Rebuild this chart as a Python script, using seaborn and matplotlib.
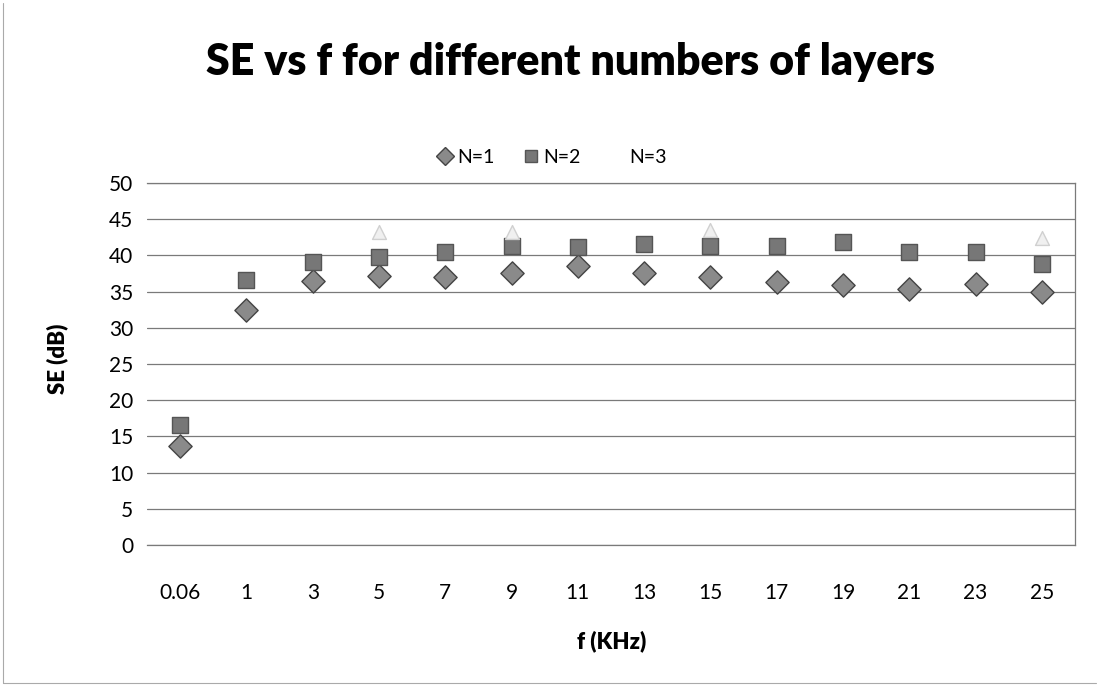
import numpy as np
import pandas as pd
import matplotlib
matplotlib.use("Agg")
import matplotlib.pyplot as plt
from matplotlib.lines import Line2D
import seaborn as sns

# Frequencies (kHz) used as category labels
freq_labels = ["0.06", "1", "3", "5", "7", "9", "11", "13", "15", "17", "19", "21", "23", "25"]

# Shielding effectiveness (dB) for each number of layers
se_n1 = [13.7, 32.5, 36.5, 37.2, 37.0, 37.6, 38.6, 37.5, 37.0, 36.3, 35.9, 35.4, 36.0, 35.0]
se_n2 = [16.6, 36.6, 39.1, 39.8, 40.5, 41.3, 41.2, 41.6, 41.3, 41.3, 41.9, 40.5, 40.5, 38.8]
se_n3 = [np.nan, np.nan, np.nan, 43.2, np.nan, 43.3, np.nan, np.nan, 43.5, np.nan, np.nan, np.nan, np.nan, 42.4]

series_names = ["N=1", "N=2", "N=3"]

df = pd.DataFrame({
    "f": freq_labels * 3,
    "SE": se_n1 + se_n2 + se_n3,
    "N": [s for s in series_names for _ in freq_labels],
})

sns.set_theme(style="white")
plt.rcParams["font.family"] = ["Lato", "DejaVu Sans"]
plt.rcParams["text.color"] = "black"

fig = plt.figure(figsize=(11.02, 6.90), dpi=100)
ax = fig.add_axes([0.1334, 0.2101, 0.8421, 0.5247])

marker_map = {"N=1": "D", "N=2": "s", "N=3": "^"}
face_map = {"N=1": "#8a8a8a", "N=2": "#777777", "N=3": "#f0f0f0"}
edge_map = {"N=1": "#444444", "N=2": "#555555", "N=3": "#d0d0d0"}
size_map = {"N=1": 140, "N=2": 125, "N=3": 100}

for name in series_names:
    sub = df[df["N"] == name]
    sns.scatterplot(data=sub, x="f", y="SE", ax=ax, marker=marker_map[name],
                    s=size_map[name], color=face_map[name],
                    edgecolor=edge_map[name], linewidth=1.0, zorder=3,
                    legend=False)

ax.set_xlim(-0.5, len(freq_labels) - 0.5)
ax.set_ylim(0, 50)
ax.set_yticks(np.arange(0, 51, 5))
ax.grid(axis="y", color="#7a7a7a", linewidth=0.9)
ax.grid(axis="x", visible=False)
ax.set_axisbelow(True)

for side in ["top", "right", "bottom"]:
    ax.spines[side].set_color("#7a7a7a")
    ax.spines[side].set_linewidth(0.9)
ax.spines["left"].set_visible(False)

ax.tick_params(axis="y", length=0, pad=10, labelsize=15, labelcolor="black")
ax.tick_params(axis="x", length=0, pad=27, labelsize=15, labelcolor="black")
ax.set_xlabel("")
ax.set_ylabel("")

fig.text(0.555, 0.070, "f (KHz)", ha="center", va="center",
         fontsize=16, fontweight="heavy")
fig.text(0.052, 0.48, "SE (dB)", ha="center", va="center", rotation=90,
         fontsize=16, fontweight="heavy")

fig.text(0.518, 0.91, "SE vs f for different numbers of layers", ha="center",
         va="center", fontsize=31, fontweight="heavy")

handles = [Line2D([], [], linestyle="none", marker=marker_map[n],
                  markersize={"N=1": 9, "N=2": 8, "N=3": 8}[n],
                  markerfacecolor=face_map[n] if n != "N=3" else "white",
                  markeredgecolor=edge_map[n] if n != "N=3" else "white")
           for n in series_names]
fig.legend(handles, series_names, loc="center", bbox_to_anchor=(0.5, 0.772),
           ncol=3, frameon=False, fontsize=14, handletextpad=0.1,
           columnspacing=1.4, handlelength=1.0)

# chart outer frame (left and bottom edges)
fig.add_artist(Line2D([0.003, 0.003], [0.01, 0.995], color="#aaaaaa",
                      linewidth=0.8, transform=fig.transFigure))
fig.add_artist(Line2D([0.003, 0.995], [0.01, 0.01], color="#aaaaaa",
                      linewidth=0.8, transform=fig.transFigure))

fig.savefig("out.png", dpi=100, facecolor="white")
